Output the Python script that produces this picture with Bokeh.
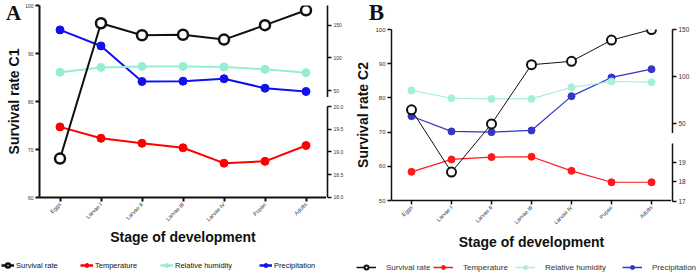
import math
from bokeh.plotting import figure
from bokeh.models import (Range1d, FactorRange, FixedTicker, Label, Legend, LegendItem,
                          ColumnDataSource, PrintfTickFormatter)
from bokeh.layouts import row, column
from bokeh.embed import file_html
from bokeh.resources import INLINE

# ---------------- data ----------------
stages = ["Eggs", "Larvae I", "Larvae II", "Larvae III", "Larvae IV", "Pupae", "Adults"]

# Panel A (C1)
surv_c1 = [68.1, 96.3, 93.8, 93.9, 92.9, 95.9, 99.0]
temp_c1 = [19.55, 19.30, 19.19, 19.09, 18.75, 18.79, 19.14]
hum_c1 = [86.1, 87.1, 87.3, 87.3, 87.2, 86.7, 86.0]
prec_c1 = [142.8, 118.2, 63.8, 64.3, 68.0, 53.5, 48.5]

# Panel B (C2)
surv_c2 = [76.5, 58.3, 72.4, 89.7, 90.7, 96.9, 100.0]
temp_c2 = [18.52, 19.16, 19.28, 19.30, 18.57, 17.98, 17.98]
hum_c2 = [82.2, 79.9, 79.7, 79.7, 83.1, 84.8, 84.6]
prec_c2 = [58.1, 41.9, 41.1, 42.9, 79.4, 99.3, 108.1]

series_names = ["Survival rate", "Temperature", "Relative humidity", "Precipitation"]

left_ticks_a = [60, 70, 80, 90, 100]
left_ticks_b = [50, 60, 70, 80, 90, 100]
prec_ticks = [50, 100, 150]
temp_ticks_a = [18.0, 18.5, 19.0, 19.5, 20.0]
temp_ticks_b = [17, 18, 19, 20]

FONT = "Liberation Sans"
TOTAL_H = 250


def span(v_hi, p_hi, v_lo, p_lo, top, bot):
    """Range whose value v_hi sits at pixel p_hi and v_lo at p_lo, for a frame top..bot."""
    k = (p_lo - p_hi) / (v_hi - v_lo)
    return Range1d(start=v_lo - (bot - p_lo) / k, end=v_hi + (p_hi - top) / k)


def style_axis(ax, font_size, lw, color="#111111", label_color="#333333"):
    ax.axis_line_width = lw
    ax.axis_line_color = color
    ax.major_tick_line_color = color
    ax.major_tick_line_width = lw
    ax.major_tick_out = 4
    ax.major_tick_in = 0
    ax.minor_tick_line_color = None
    ax.major_label_text_font = FONT
    ax.major_label_text_font_size = font_size
    ax.major_label_text_color = label_color
    ax.major_label_standoff = 2


def letter_label(cfg):
    return Label(x=cfg["letter_x"], y=cfg["letter_y"], x_units="canvas", y_units="canvas",
                 text=cfg["letter"], text_font="Liberation Serif", text_font_style="bold",
                 text_font_size=cfg["letter_fs"], text_align="center",
                 text_baseline="middle", text_color="#111111")


def strip_fig(cfg):
    """Left strip of panel A holding the panel letter and the y title."""
    s = figure(width=cfg["strip_w"], height=TOTAL_H, x_range=Range1d(0, 1),
               y_range=Range1d(0, 1), min_border=0, x_axis_type=None, y_axis_type=None,
               toolbar_location=None, output_backend="svg")
    s.outline_line_color = None
    s.grid.visible = False
    s.add_layout(letter_label(cfg))
    s.add_layout(Label(x=cfg["ytitle_x"], y=(cfg["top"] + cfg["bot"]) / 2,
                       x_units="canvas", y_units="canvas", text=cfg["ytitle"],
                       angle=90, angle_units="deg", text_font=FONT,
                       text_font_style="bold", text_font_size="14px",
                       text_align="center", text_baseline="middle", text_color="#111111"))
    return s


def main_fig(cfg):
    top, bot = cfg["top"], cfg["bot"]
    p = figure(x_range=FactorRange(*stages, range_padding=0),
               y_range=Range1d(*cfg["left_range"]),
               frame_width=cfg["frame_w"], frame_height=bot - top,
               min_border_left=cfg["left"], min_border_right=0,
               min_border_top=top, min_border_bottom=TOTAL_H - bot,
               toolbar_location=None, output_backend="svg")
    p.outline_line_color = None
    p.grid.visible = False
    p.extra_y_ranges = {
        "prec": span(150, cfg["p150"], 50, cfg["p50"], top, bot),
        "temp": span(cfg["t_hi"], cfg["t_hi_px"], cfg["t_lo"], cfg["t_lo_px"], top, bot),
    }
    style_axis(p.yaxis[0], cfg["ytick_fs"], cfg["axis_lw"])
    style_axis(p.xaxis[0], cfg["xtick_fs"], cfg["axis_lw"])
    p.yaxis.ticker = FixedTicker(ticks=cfg["left_ticks"])
    p.xaxis.major_label_orientation = math.pi / 4
    if not cfg["strip"]:
        p.yaxis.axis_label = cfg["ytitle"]
    p.xaxis.axis_label = "Stage of development"
    for ax in (p.xaxis[0], p.yaxis[0]):
        ax.axis_label_text_font = FONT
        ax.axis_label_text_font_style = "bold"
        ax.axis_label_text_font_size = "14px"
        ax.axis_label_text_color = "#111111"
    p.yaxis.axis_label_standoff = cfg["ytitle_standoff"]
    p.xaxis.axis_label_standoff = cfg["xtitle_standoff"]

    lw = cfg["line_w"]
    c = cfg["colors"]
    # precipitation
    p.line(stages, cfg["prec"], y_range_name="prec", color=c[3], line_width=lw)
    p.scatter(stages, cfg["prec"], y_range_name="prec", marker="circle", size=cfg["msize"],
              color=c[3])
    # humidity
    p.line(stages, cfg["hum"], color=c[2], line_width=lw)
    p.scatter(stages, cfg["hum"], marker="circle", size=cfg["msize"], color=c[2])
    # temperature
    p.line(stages, cfg["temp"], y_range_name="temp", color=c[1], line_width=lw)
    p.scatter(stages, cfg["temp"], y_range_name="temp", marker="circle", size=cfg["msize"],
              color=c[1])
    # survival
    p.line(stages, cfg["surv"], color=c[0], line_width=cfg["surv_lw"])
    p.scatter(stages, cfg["surv"], marker="circle", size=cfg["surv_size"],
              fill_color="white", line_color=c[0], line_width=cfg["surv_mlw"])

    if not cfg["strip"]:
        p.add_layout(letter_label(cfg), "above")
    return p


def right_axes(cfg):
    figs = []
    segs = [
        (cfg["top"], cfg["seg1_bot"], span(150, cfg["p150"], 50, cfg["p50"],
                                           cfg["top"], cfg["seg1_bot"]), prec_ticks, "%d"),
        (cfg["seg2_top"], cfg["bot2"], span(cfg["t_hi"], cfg["t_hi_px"], cfg["t_lo"],
                                            cfg["t_lo_px"], cfg["seg2_top"], cfg["bot2"]),
         cfg["temp_ticks"], cfg["temp_fmt"]),
    ]
    prev = 0
    for i, (t, b, rng, ticks, fmt) in enumerate(segs):
        h_total = (cfg["seg1_bot"] if i == 0 else TOTAL_H - cfg["seg1_bot"])
        top_border = t - prev
        f = figure(x_range=Range1d(0, 1), y_range=rng, frame_width=1, frame_height=b - t,
                   min_border_left=0, min_border_right=cfg["right_w"] - 1,
                   min_border_top=top_border, min_border_bottom=h_total - top_border - (b - t),
                   x_axis_type=None, y_axis_location="right",
                   toolbar_location=None, output_backend="svg")
        f.outline_line_color = None
        f.grid.visible = False
        style_axis(f.yaxis[0], cfg["rtick_fs"], cfg["raxis_lw"])
        f.yaxis.ticker = FixedTicker(ticks=ticks)
        f.yaxis.formatter = PrintfTickFormatter(format=fmt)
        figs.append(column(f))
        prev = cfg["seg1_bot"]
    return column(*figs, spacing=0)


def legend_fig(cfg):
    lf = figure(width=350, height=275 - TOTAL_H,
                x_range=FactorRange(*stages), y_range=Range1d(1000, 1025),
                min_border=0, x_axis_type=None, y_axis_type=None,
                toolbar_location=None, output_backend="svg")
    lf.outline_line_color = None
    lf.grid.visible = False
    c = cfg["colors"]
    vals = [cfg["surv"], cfg["temp"], cfg["hum"], cfg["prec"]]
    for i, name in enumerate(series_names):
        # real series, but the legend figure's y range keeps them out of view
        src = ColumnDataSource(data=dict(x=stages, y=vals[i]))
        lw = cfg["leg_surv_lw"] if i == 0 else cfg["leg_lw"]
        lr = lf.line("x", "y", source=src, color=c[i], line_width=lw)
        if i == 0:
            sr = lf.scatter("x", "y", source=src, marker="circle", size=cfg["leg_msize"],
                            fill_color="white", line_color=c[0], line_width=cfg["surv_mlw"])
        else:
            sr = lf.scatter("x", "y", source=src, marker="circle", size=cfg["leg_msize"] - 1,
                            color=c[i])
        leg = Legend(items=[LegendItem(label=name, renderers=[lr, sr])],
                     location=(cfg["leg_x"][i], cfg["leg_y"]),
                     orientation="horizontal", border_line_color=None,
                     background_fill_alpha=0, padding=0, margin=0, spacing=0,
                     glyph_width=cfg["leg_gw"], glyph_height=10,
                     label_standoff=cfg["leg_standoff"], label_height=10,
                     label_text_font=FONT, label_text_font_size=cfg["leg_fs"],
                     label_text_color=cfg["leg_color"], label_text_baseline="middle")
        lf.add_layout(leg)
    return lf


cfg_a = dict(
    strip=True, strip_w=22, ytitle_x=13,
    letter="A", letter_x=13, letter_y=12, letter_fs="21px",
    left=15, frame_w=287, top=5, bot=197, left_range=(60, 100), left_ticks=left_ticks_a,
    p150=24.7, p50=90.0, t_hi=20.0, t_hi_px=106.0, t_lo=18.0, t_lo_px=196.7,
    ytick_fs="5px", xtick_fs="5.5px", axis_lw=2, ytitle="Survival rate C1",
    ytitle_standoff=1, xtitle_standoff=2,
    line_w=2, msize=8, surv_lw=2, surv_size=10, surv_mlw=2.5,
    colors=["#111111", "#FF0000", "#96EED2", "#1010F0"],
    surv=surv_c1, temp=temp_c1, hum=hum_c1, prec=prec_c1,
    seg1_bot=97, seg2_top=106, bot2=197, temp_ticks=temp_ticks_a, temp_fmt="%.1f",
    right_w=26, rtick_fs="5px", raxis_lw=1.6,
    leg_x=[1, 80, 160, 259], leg_y=8, leg_gw=13, leg_standoff=2, leg_fs="7.5px",
    leg_color="#111111", leg_msize=8, leg_lw=2.5, leg_surv_lw=2.5,
)

cfg_b = dict(
    strip=False,
    letter="B", letter_x=24, letter_y=12, letter_fs="23px",
    left=39, frame_w=280, top=29, bot=200, left_range=(50, 100), left_ticks=left_ticks_b,
    p150=29.3, p50=123.3, t_hi=20.0, t_hi_px=142.7, t_lo=17.0, t_lo_px=200.7,
    ytick_fs="6px", xtick_fs="5.5px", axis_lw=1.5, ytitle="Survival rate C2",
    ytitle_standoff=1, xtitle_standoff=4,
    line_w=1.2, msize=7, surv_lw=1, surv_size=9, surv_mlw=2,
    colors=["#111111", "#FF1A1A", "#A6F0DA", "#3535C8"],
    surv=surv_c2, temp=temp_c2, hum=hum_c2, prec=prec_c2,
    seg1_bot=133, seg2_top=143, bot2=201, temp_ticks=temp_ticks_b, temp_fmt="%d",
    right_w=31, rtick_fs="6.5px", raxis_lw=1.5,
    leg_x=[6, 83, 165, 272], leg_y=6, leg_gw=20, leg_standoff=10, leg_fs="8px",
    leg_color="#333333", leg_msize=8, leg_lw=1.5, leg_surv_lw=1.5,
)

sa = strip_fig(cfg_a)
pa = main_fig(cfg_a)
ra = right_axes(cfg_a)
pb = main_fig(cfg_b)
rb = right_axes(cfg_b)
la = legend_fig(cfg_a)
lb = legend_fig(cfg_b)

layout = column(row(column(sa), column(pa), ra, column(pb), rb, spacing=0),
                row(column(la), column(lb), spacing=0), spacing=0)

open("out.html", "w").write(file_html(layout, INLINE))
